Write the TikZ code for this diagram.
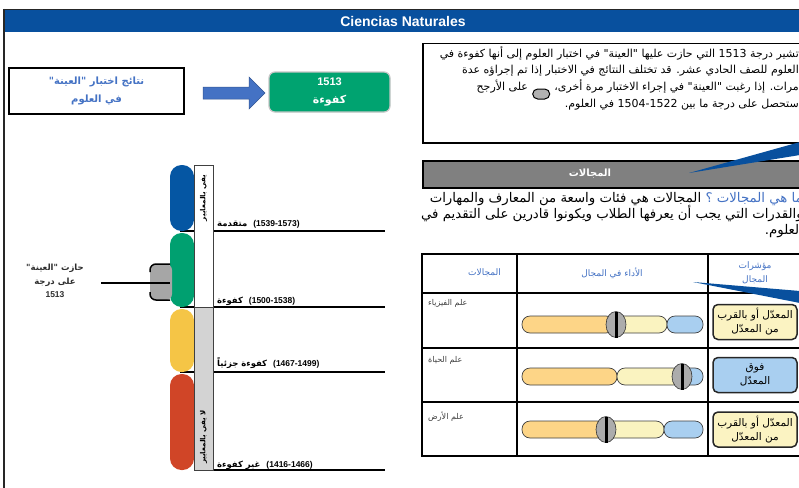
\documentclass[tikz,border=0pt]{standalone}
\usepackage{fontspec}
\setmainfont{Liberation Sans}
\newfontfamily\arabicfont[Script=Arabic]{DejaVu Sans}
\newfontfamily\latinfont{DejaVu Sans}
\TeXXeTstate=1
\usetikzlibrary{shapes.geometric}
\definecolor{hdrblue}{RGB}{8,80,158}
\definecolor{txtblue}{RGB}{68,114,196}
\definecolor{arrowblue}{RGB}{68,114,196}
\definecolor{kgreen}{RGB}{0,163,112}
\definecolor{pblue}{RGB}{5,86,163}
\definecolor{pgreen}{RGB}{0,160,112}
\definecolor{pyellow}{RGB}{245,197,70}
\definecolor{pred}{RGB}{208,69,39}
\definecolor{colgray}{RGB}{211,211,211}
\definecolor{bargray}{RGB}{128,128,128}
\definecolor{corange}{RGB}{253,213,135}
\definecolor{cyellow}{RGB}{250,243,192}
\definecolor{cblue}{RGB}{169,207,240}
\definecolor{boxyellow}{RGB}{251,243,194}
\definecolor{lbltext}{RGB}{45,45,45}
\tikzset{
  artext/.style={inner sep=0pt, font=\arabicfont\fontsize{11}{13}\selectfont},
  artextb/.style={inner sep=0pt, font=\arabicfont\fontsize{13.3}{15}\selectfont},
  pill/.style={rounded corners=11.5pt},
  capsule/.style={draw=black!75, line width=0.7pt, rounded corners=8pt},
  scalelbl/.style={inner sep=0pt, anchor=base west, font=\bfseries\fontsize{8.5}{10}\selectfont},
  tline/.style={line width=1.8pt, black},
  sline/.style={line width=1.6pt, black},
  ibox/.style={draw=black!85, line width=1.5pt, rounded corners=5pt, minimum width=84pt, minimum height=35pt, inner sep=0pt, align=center, font=\arabicfont\fontsize{10.5}{14}\selectfont},
  mkshape/.style={ellipse, minimum width=20pt, minimum height=26pt, inner sep=0pt, fill=gray!65, draw=gray!40!black, line width=0.6pt},
  mkbar/.style={fill=black, minimum width=3pt, minimum height=26pt, inner sep=0pt},
  thead/.style={inner sep=0pt, text=txtblue, align=center, font=\arabicfont\fontsize{9}{14}\selectfont},
  rowlbl/.style={inner sep=0pt, anchor=west, text=black!75, font=\arabicfont\fontsize{8}{10}\selectfont},
}
\begin{document}
\begin{tikzpicture}[x=1pt,y=-1pt]
\path[use as bounding box] (0,0) rectangle (799,487);
\clip (0,0) rectangle (799,487);
\fill[white] (0,0) rectangle (799,487);

% header
\fill[hdrblue] (3,9) rectangle (805,32);
\draw[line width=1.2pt, black!85] (3,9.5) -- (805,9.5);
\draw[line width=2.2pt, black!85] (4,9) -- (4,490);
\node[text=white, font=\bfseries\fontsize{14}{16}\selectfont] (title) at (403,21) {Ciencias Naturales};

% results box, arrow, green box
\node[draw, line width=1.8pt, minimum width=175pt, minimum height=46pt, inner sep=0pt, align=center, text=txtblue, font=\arabicfont\bfseries\fontsize{10}{18}\selectfont] (resbox) at (96.5,91) {\beginR نتائج اختبار "العينة"\endR\\\beginR في العلوم\endR};
\node[rounded corners=6pt, fill=kgreen, draw=gray!45, line width=1.2pt, minimum width=121pt, minimum height=40pt, inner sep=0pt, text=white, align=center, font=\bfseries\fontsize{11}{18}\selectfont] (kbox) at (329.5,92) {1513\\{\arabicfont\beginR كفوءة\endR}};
\fill[arrowblue, draw=arrowblue!75!black, line width=0.5pt] (203,87) -- (249,87) -- (249,77) -- (265,93) -- (249,109) -- (249,99) -- (203,99) -- cycle;

% scale lines
\draw[sline] (180,231) -- (385,231);
\draw[sline] (180,307) -- (385,307);
\draw[sline] (180,372) -- (385,372);
\draw[sline] (213,470) -- (385,470);

% pills
\fill[pblue, pill] (170,165) rectangle (194,231);
\fill[pgreen, pill] (170,233) rectangle (194,307);
\fill[pyellow, pill] (170,309) rectangle (194,372);
\fill[pred, pill] (170,374) rectangle (194,470);

% column
\node[draw=black!75, line width=0.7pt, fill=white, minimum width=19pt, minimum height=142pt, inner sep=0pt, anchor=north west] (colup) at (194,165) {};
\node[draw=black!75, line width=0.7pt, fill=colgray, minimum width=19pt, minimum height=163pt, inner sep=0pt, anchor=north west] (coldown) at (194,307) {};
\node[rotate=90, inner sep=0pt, font=\arabicfont\bfseries\fontsize{7}{8}\selectfont] (meets) at (203.5,198) {\beginR يفي بالمعايير\endR};
\node[rotate=90, inner sep=0pt, font=\arabicfont\bfseries\fontsize{7}{8}\selectfont] (notmeets) at (203.5,437) {\beginR لا يفي بالمعايير\endR};

% scale labels
\node[scalelbl] (l1) at (217,226) {{\arabicfont\bfseries\beginR متقدمة\endR}\hspace{6pt}(1539-1573)};
\node[scalelbl] (l2) at (217,303) {{\arabicfont\bfseries\beginR كفوءة\endR}\hspace{6pt}(1500-1538)};
\node[scalelbl] (l3) at (217,366) {{\arabicfont\bfseries\beginR كفوءة جزئياً\endR}\hspace{6pt}(1467-1499)};
\node[scalelbl] (l4) at (217,467) {{\arabicfont\bfseries\beginR غير كفوءة\endR}\hspace{6pt}(1416-1466)};

% marker on scale
\fill[gray!70, rounded corners=6pt] (150,264) rectangle (172,300);
\draw[line width=1.5pt, rounded corners=6pt] (170,264) -| (150,272);
\draw[line width=1.5pt, rounded corners=6pt] (170,300) -| (150,292);
\node[minimum width=20pt, minimum height=36pt, inner sep=0pt] (mark) at (160,282) {};
\coordinate (markline) at (101,283);
\draw[line width=1.3pt] (markline) -- (mark.east |- markline);
\node[align=center, text=lbltext, font=\arabicfont\bfseries\fontsize{8.5}{13.5}\selectfont] (scorelbl) at (55,281) {\beginR حازت "العينة"\endR\\\beginR على درجة\endR\\{\fontspec{Liberation Sans}\bfseries 1513}};

% info box
\node[draw, line width=1.5pt, minimum width=384pt, minimum height=99pt, inner sep=0pt, anchor=north west] (infobox) at (422,43) {};
\node[artext, anchor=base east] (p1) at (799,57.5) {\beginR تشير درجة \beginL 1513\endL{} التي حازت عليها "العينة" في اختبار العلوم إلى أنها كفوءة في\endR};
\node[artext, anchor=base east] (p2) at (799,74) {\beginR العلوم للصف الحادي عشر. قد تختلف النتائج في الاختبار إذا تم إجراؤه عدة\endR};
\node[artext, anchor=base east] (p3a) at (799,90.5) {\beginR مرات. إذا رغبت "العينة" في إجراء الاختبار مرة أخرى،\endR};
\node[draw=black, line width=1pt, fill=gray!60, rounded corners=5pt, minimum width=17pt, minimum height=10pt, inner sep=0pt, anchor=east] (oval) at ([xshift=-4pt,yshift=-3.5pt]p3a.base west) {};
\node[artext, anchor=base east] (p3b) at ([xshift=-4pt,yshift=3.5pt]oval.west) {\beginR على الأرجح\endR};
\node[artext, anchor=base east] (p4) at (799,107) {\beginR ستحصل على درجة ما بين {\latinfont\beginL 1504-1522\endL}{} في العلوم.\endR};

% domains bar
\node[fill=bargray, draw=black, line width=2pt, minimum width=384pt, minimum height=27pt, inner sep=0pt, anchor=north west] (dombar) at (422,160) {};
\node[text=white, inner sep=0pt, font=\arabicfont\bfseries\fontsize{10}{12}\selectfont] (domtitle) at (590,174) {\beginR المجالات\endR};
\fill[hdrblue] (689,173) -- (800,142) -- (800,155) -- cycle;

% domains paragraph
\begin{scope}
\clip (405,188) rectangle (799,245);
\node[artextb, anchor=base east, text=txtblue] (q1a) at (803,202) {\beginR ما هي المجالات ؟\endR};
\node[artextb, anchor=base east] (q1b) at ([xshift=-4pt]q1a.base west) {\beginR المجالات هي فئات واسعة من المعارف والمهارات\endR};
\node[artextb, anchor=base east] (q2) at (803,218) {\beginR والقدرات التي يجب أن يعرفها الطلاب ويكونوا قادرين على التقديم في\endR};
\node[artextb, anchor=base east] (q3) at (803,234) {\beginR العلوم.\endR};
\end{scope}

% table
\draw[tline] (422,254) rectangle (806,456);
\draw[tline] (517,254) -- (517,456);
\draw[tline] (708,254) -- (708,456);
\draw[tline] (422,293) -- (806,293);
\draw[tline] (422,348) -- (806,348);
\draw[tline] (422,402) -- (806,402);
\node[thead, anchor=east] (h1) at (501,273) {\beginR المجالات\endR};
\node[thead] (h2) at (612,273) {\beginR الأداء في المجال\endR};
\node[thead] (h3) at (755,273) {\beginR مؤشرات\endR\\\beginR المجال\endR};
\node[rowlbl] (r1) at (428,303) {\beginR علم الفيزياء\endR};
\node[rowlbl] (r2) at (428,360) {\beginR علم الحياة\endR};
\node[rowlbl] (r3) at (428,417) {\beginR علم الأرض\endR};

% row 1 bar
\draw[capsule, fill=corange] (522,316) rectangle (614,333);
\draw[capsule, fill=cyellow] (614,316) rectangle (667,333);
\draw[capsule, fill=cblue] (667,316) rectangle (703,333);
\node[mkshape] (m1) at (616,324.5) {};
\node[mkbar] (b1) at (616,324.5) {};
% row 2 bar
\draw[capsule, fill=corange] (522,368) rectangle (617,385);
\draw[capsule, fill=cyellow] (617,368) rectangle (681,385);
\draw[capsule, fill=cblue] (681,368) rectangle (703,385);
\node[mkshape] (m2) at (682,376.5) {};
\node[mkbar] (b2) at (682,376.5) {};
% row 3 bar
\draw[capsule, fill=corange] (522,421) rectangle (605,438);
\draw[capsule, fill=cyellow] (605,421) rectangle (664,438);
\draw[capsule, fill=cblue] (664,421) rectangle (703,438);
\node[mkshape] (m3) at (606,429.5) {};
\node[mkbar] (b3) at (606,429.5) {};

% indicator boxes
\node[ibox, fill=boxyellow] (i1) at (755,322) {\beginR المعدّل أو بالقرب\endR\\\beginR من المعدّل\endR};
\node[ibox, fill=cblue] (i2) at (755,375) {\beginR فوق\endR\\\beginR المعدّل\endR};
\node[ibox, fill=boxyellow] (i3) at (755,429.5) {\beginR المعدّل أو بالقرب\endR\\\beginR من المعدّل\endR};
\fill[hdrblue] (693,282) -- (800,291) -- (800,303) -- cycle;
\end{tikzpicture}
\end{document}
